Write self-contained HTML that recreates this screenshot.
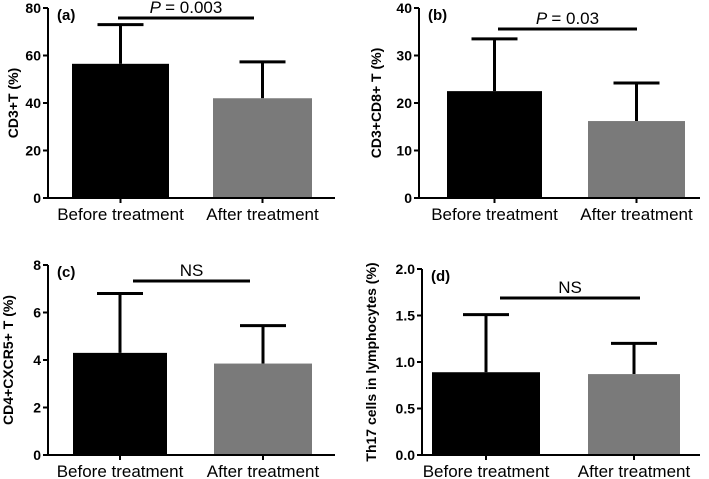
<!DOCTYPE html>
<html><head><meta charset="utf-8">
<style>
html,body{margin:0;padding:0;background:#fff;}
svg{display:block;font-family:"Liberation Sans",Arial,sans-serif;}
</style></head>
<body>
<svg id="fig" width="709" height="479" viewBox="0 0 709 479"></svg>
<script>
const categories = ["Before treatment", "After treatment"];
const meansA = [56.5, 42.0];
const errA = [73.0, 57.3];
const meansB = [22.5, 16.2];
const errB = [33.5, 24.2];
const meansC = [4.3, 3.85];
const errC = [6.8, 5.45];
const meansD = [0.89, 0.87];
const errD = [1.51, 1.20];
const ticksA = [0, 20, 40, 60, 80];
const ticksB = [0, 10, 20, 30, 40];
const ticksC = [0, 2, 4, 6, 8];
const ticksD = [0.0, 0.5, 1.0, 1.5, 2.0];
const tickLabelsD = ["0.0", "0.5", "1.0", "1.5", "2.0"];
const sigA = "= 0.003", sigB = "= 0.03";

const NS = "http://www.w3.org/2000/svg";
const svg = document.getElementById('fig');
function mk(tag, attrs, parent) {
  const e = document.createElementNS(NS, tag);
  for (const k in attrs) e.setAttribute(k, attrs[k]);
  (parent || svg).appendChild(e);
  return e;
}

function panel(cfg) {
  const g = mk('g', {});
  
  
  const max = cfg.ticks[cfg.ticks.length - 1];
  const y = v => cfg.y0 - (v / max) * (cfg.y0 - cfg.yTop);
  cfg.means.forEach((m, i) => {
    const [bx0, bx1] = cfg.bars[i];
    const cx = (bx0 + bx1) / 2;
    const eb = mk('line', {x1: cx, x2: cx, y1: y(m), y2: y(cfg.errs[i]), stroke: '#000', 'stroke-width': 3}, g);
    
    
    const cap = mk('line', {x1: cx - 23, x2: cx + 23, y1: y(cfg.errs[i]), y2: y(cfg.errs[i]), stroke: '#000', 'stroke-width': 3}, g);
    
    
    const r = mk('rect', {x: bx0, y: y(m), width: bx1 - bx0, height: cfg.y0 - y(m), fill: i === 0 ? '#000' : '#7a7a7a'}, g);
    
    
    mk('line', {x1: cx, x2: cx, y1: cfg.y0, y2: cfg.y0 + 5, stroke: '#000', 'stroke-width': 2}, g);
    const lbl = mk('text', {x: cx, y: cfg.y0 + 22, 'text-anchor': 'middle', 'font-size': 17, fill: '#000'}, g);
    lbl.textContent = categories[i];
    
    
  });
  const ya = mk('line', {x1: cfg.x0, x2: cfg.x0, y1: cfg.yTop, y2: cfg.y0, stroke: '#000', 'stroke-width': 2}, g);
  
  
  const xa = mk('line', {x1: cfg.x0, x2: cfg.xEnd, y1: cfg.y0, y2: cfg.y0, stroke: '#000', 'stroke-width': 2}, g);
  
  
  cfg.ticks.forEach((tv, i) => {
    mk('line', {x1: cfg.x0 - 5, x2: cfg.x0, y1: y(tv), y2: y(tv), stroke: '#000', 'stroke-width': 2}, g);
    const tl = mk('text', {x: cfg.x0 - 7, y: y(tv) + 5, 'text-anchor': 'end', 'font-size': 14, 'font-weight': 'bold'}, g);
    tl.textContent = cfg.tickLabels ? cfg.tickLabels[i] : tv;
    
    
  });
  const pl = mk('text', {x: cfg.x0 + 9, y: cfg.yTop + 12, 'font-size': 15, 'font-weight': 'bold'}, g);
  pl.textContent = '(' + cfg.id + ')';
  
  
  const ymid = (cfg.y0 + cfg.yTop) / 2;
  const yt = mk('text', {x: cfg.titleX, y: ymid, 'text-anchor': 'middle', 'font-size': cfg.titleSize || 14, 'font-weight': 'bold', transform: 'rotate(-90 ' + cfg.titleX + ' ' + ymid + ')'}, g);
  yt.textContent = cfg.title;
  
  
  const sl = mk('line', {x1: cfg.sig[0], x2: cfg.sig[1], y1: cfg.sig[2], y2: cfg.sig[2], stroke: '#000', 'stroke-width': 3}, g);
  
  
  const st = mk('text', {x: (cfg.sig[0] + cfg.sig[1]) / 2, y: cfg.sig[2] - 5, 'text-anchor': 'middle', 'font-size': 17}, g);
  
  
  if (cfg.sigText) {
    const ts = mk('tspan', {'font-style': 'italic'}, st); ts.textContent = 'P ';
    const t2 = mk('tspan', {}, st); t2.textContent = cfg.sigText;
  } else st.textContent = 'NS';
}

panel({id: 'a', x0: 48, xEnd: 335, y0: 198, yTop: 8, ticks: ticksA, means: meansA, errs: errA,
  bars: [[72, 169], [213, 312]], title: 'CD3+T (%)', titleX: 18, sig: [118, 254, 18], sigText: sigA});
panel({id: 'b', x0: 419, xEnd: 700, y0: 198, yTop: 8, ticks: ticksB, means: meansB, errs: errB,
  bars: [[447, 542], [588, 685]], title: 'CD3+CD8+ T (%)', titleX: 381, sig: [498, 637, 29], sigText: sigB});
panel({id: 'c', x0: 48, xEnd: 335, y0: 455, yTop: 265, ticks: ticksC, means: meansC, errs: errC,
  bars: [[73, 167], [214, 312]], title: 'CD4+CXCR5+ T (%)', titleX: 13, sig: [133, 250, 281]});
panel({id: 'd', x0: 422, xEnd: 700, y0: 455, yTop: 269, ticks: ticksD, tickLabels: tickLabelsD, means: meansD, errs: errD,
  bars: [[432, 540], [588, 680]], title: 'Th17 cells in lymphocytes (%)', titleSize: 14, titleX: 376, sig: [500, 640, 298]});
</script>
</body></html>
